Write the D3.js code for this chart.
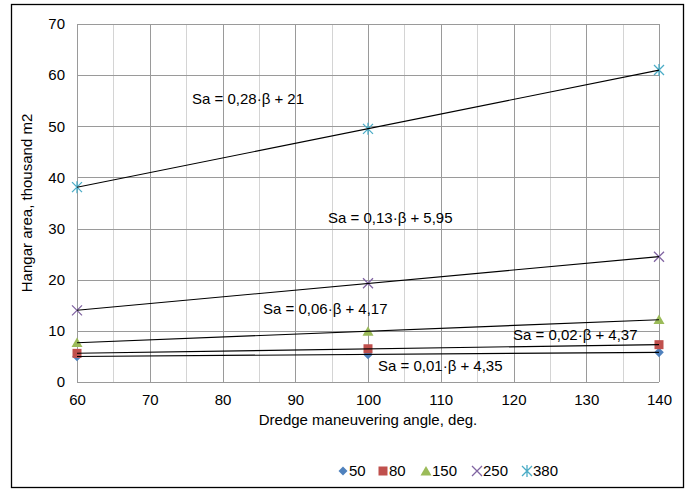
<!DOCTYPE html>
<html><head><meta charset="utf-8">
<script src="https://cdn.jsdelivr.net/npm/d3@7"></script>
<style>body{margin:0;background:#fff;} text{font-family:"Liberation Sans",Arial,sans-serif;}</style>
</head><body>
<svg id="c" width="688" height="489"></svg>
<script>
// Data
const angles = [60, 100, 140];
const seriesNames = ["50", "80", "150", "250", "380"];
const s50  = [5.0, 5.4, 5.8];
const s80  = [5.6, 6.5, 7.3];
const s150 = [7.7, 9.9, 12.2];
const s250 = [14.0, 19.3, 24.5];
const s380 = [38.1, 49.5, 61.0];
const equations = ["Sa = 0,01·β + 4,35", "Sa = 0,02·β + 4,37", "Sa = 0,06·β + 4,17", "Sa = 0,13·β + 5,95", "Sa = 0,28·β + 21"];
const xTicks = [60, 70, 80, 90, 100, 110, 120, 130, 140];
const yTicks = [0, 10, 20, 30, 40, 50, 60, 70];

const allSeries = [s50, s80, s150, s250, s380];
const colors = ["#4f81bd", "#c0504d", "#9bbb59", "#8064a2", "#4bacc6"];
const markerKinds = ["diamond", "square", "triangle", "x", "star"];
// equation label anchors (pixel layout)
const labelPos = [[378, 371], [513, 340], [263, 314], [328, 223], [192, 104]];
const FS = 15;

const svg = d3.select("#c");
svg.append("rect").attr("x", 11.5).attr("y", 4.5).attr("width", 672).attr("height", 483)
  .attr("fill", "#fff").attr("stroke", "#000").attr("stroke-width", 1.3);

const x = d3.scaleLinear().domain([60, 140]).range([77, 659]);
const y = d3.scaleLinear().domain([0, 70]).range([382, 24]);

const g = svg.append("g");
const minor = d3.range(65, 140, 10);
g.selectAll(".vminor").data(minor).join("line")
  .attr("x1", d => Math.round(x(d)) + 0.5).attr("x2", d => Math.round(x(d)) + 0.5)
  .attr("y1", y(70)).attr("y2", y(0)).attr("stroke", "#d4d4d4").attr("stroke-width", 1);
g.selectAll(".vmajor").data(xTicks).join("line")
  .attr("x1", d => Math.round(x(d)) + 0.5).attr("x2", d => Math.round(x(d)) + 0.5)
  .attr("y1", y(70)).attr("y2", y(0)).attr("stroke", "#9a9a9a").attr("stroke-width", 1);
g.selectAll(".hmajor").data(yTicks).join("line")
  .attr("y1", d => Math.round(y(d)) + 0.5).attr("y2", d => Math.round(y(d)) + 0.5)
  .attr("x1", x(60)).attr("x2", x(140)).attr("stroke", "#9a9a9a").attr("stroke-width", 1);

const xAxis = svg.append("g").attr("transform", `translate(0,${y(0)})`)
  .call(d3.axisBottom(x).tickValues(xTicks).tickSize(0).tickPadding(12));
const yAxis = svg.append("g").attr("transform", `translate(${x(60)},0)`)
  .call(d3.axisLeft(y).tickValues(yTicks).tickSize(0).tickPadding(12));
[xAxis, yAxis].forEach(a => {
  a.select(".domain").remove();
  a.selectAll("text").attr("font-size", FS).attr("fill", "#000")
    .style("font-family", "'Liberation Sans',Arial,sans-serif");
});

svg.append("text").attr("x", 368).attr("y", 425).attr("text-anchor", "middle")
  .attr("font-size", FS).attr("fill", "#000").text("Dredge maneuvering angle, deg.");
svg.append("text").attr("transform", "translate(32,203) rotate(-90)").attr("text-anchor", "middle")
  .attr("font-size", FS).attr("fill", "#000").text("Hangar area, thousand m2");

function marker(sel, kind, color, s) {
  if (kind === "diamond") {
    sel.append("path").attr("d", `M0,${-s}L${s},0L0,${s}L${-s},0Z`).attr("fill", color);
  } else if (kind === "square") {
    sel.append("rect").attr("x", -4.5).attr("y", -4.5).attr("width", 9).attr("height", 9).attr("fill", color);
  } else if (kind === "triangle") {
    sel.append("path").attr("d", "M0,-5L5.5,4.5L-5.5,4.5Z").attr("fill", color);
  } else if (kind === "x") {
    sel.append("path").attr("d", "M-5,-5L5,5M-5,5L5,-5").attr("stroke", color).attr("stroke-width", 1.3).attr("fill", "none");
  } else if (kind === "star") {
    sel.append("path").attr("d", "M-5,-5L5,5M-5,5L5,-5M0,-6L0,6").attr("stroke", color).attr("stroke-width", 1.3).attr("fill", "none");
  }
}

allSeries.forEach((vals, i) => {
  vals.forEach((v, j) => {
    const m = svg.append("g").attr("transform", `translate(${x(angles[j])},${y(v)})`);
    marker(m, markerKinds[i], colors[i], 4.8);
  });
});

// linear trendlines (least squares)
allSeries.forEach((vals) => {
  const mx = d3.mean(angles), my = d3.mean(vals);
  const b = d3.sum(angles.map((a, k) => (a - mx) * (vals[k] - my))) / d3.sum(angles.map(a => (a - mx) ** 2));
  const a0 = my - b * mx;
  svg.append("line").attr("x1", x(60)).attr("x2", x(140))
    .attr("y1", y(a0 + b * 60)).attr("y2", y(a0 + b * 140))
    .attr("stroke", "#000").attr("stroke-width", 1.1);
});

equations.forEach((t, i) => {
  svg.append("text").attr("x", labelPos[i][0]).attr("y", labelPos[i][1])
    .attr("font-size", FS).attr("fill", "#000").text(t);
});

const legX = [343, 383, 426, 477, 527];
seriesNames.forEach((n, i) => {
  const m = svg.append("g").attr("transform", `translate(${legX[i]},471)`);
  marker(m, markerKinds[i], colors[i], 4.5);
  svg.append("text").attr("x", legX[i] + 6).attr("y", 476).attr("font-size", FS)
    .attr("fill", "#000").text(n);
});
</script>
</body></html>
